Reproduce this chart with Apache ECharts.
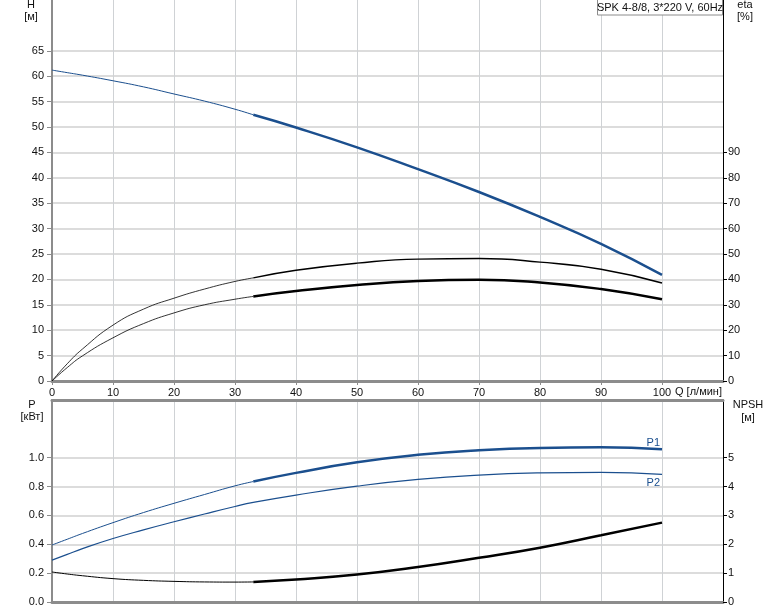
<!DOCTYPE html>
<html>
<head>
<meta charset="utf-8">
<script src="https://cdn.jsdelivr.net/npm/echarts@6/dist/echarts.min.js"></script>
<style>
html,body{margin:0;padding:0;background:#fff;}
#c{width:774px;height:611px;}
</style>
</head>
<body>
<div id="c"></div>
<script>
// ---- data ----
const Q      = [0, 2.5, 5, 10, 15, 20, 25, 30, 33, 40, 50, 60, 70, 80, 90, 100];
const H      = [61.2, 60.7, 60.2, 59.1, 57.9, 56.5, 55.1, 53.5, 52.4, 49.9, 46.0, 41.7, 37.2, 32.3, 27.0, 20.9];
const ETA_A  = [0, 6.8, 12.6, 22.0, 28.3, 32.6, 36.2, 39.2, 40.6, 43.6, 46.4, 48.0, 48.2, 46.8, 44.0, 38.6];
const ETA_B  = [0, 5.3, 9.9, 17.0, 22.6, 26.8, 30.0, 32.2, 33.3, 35.4, 37.8, 39.4, 39.9, 38.8, 36.2, 32.2];
const P1     = [0.395, 0.435, 0.475, 0.55, 0.62, 0.684, 0.745, 0.805, 0.835, 0.895, 0.968, 1.02, 1.052, 1.068, 1.072, 1.058];
const P2     = [0.29, 0.33, 0.37, 0.44, 0.50, 0.556, 0.61, 0.662, 0.69, 0.741, 0.803, 0.85, 0.88, 0.895, 0.899, 0.885];
const NPSH   = [1.04, 0.97, 0.91, 0.81, 0.75, 0.715, 0.695, 0.69, 0.695, 0.78, 0.95, 1.21, 1.53, 1.88, 2.31, 2.75];
const SPLIT  = 8; // index from which the curves are drawn bold (Q = 33)

const Q_TICKS    = [0, 10, 20, 30, 40, 50, 60, 70, 80, 90, 100];
const H_TICKS    = [0, 5, 10, 15, 20, 25, 30, 35, 40, 45, 50, 55, 60, 65];
const ETA_TICKS  = [0, 10, 20, 30, 40, 50, 60, 70, 80, 90];
const P_TICKS    = [0, 0.2, 0.4, 0.6, 0.8, 1.0];
const NPSH_TICKS = [0, 1, 2, 3, 4, 5];

const TITLE = 'SPK 4-8/8, 3*220 V, 60Hz';

// ---- helpers ----
const pairs = (ys) => Q.map((q, i) => [q, ys[i]]);
const thin = (ys) => pairs(ys).slice(0, SPLIT + 1);
const bold = (ys) => pairs(ys).slice(SPLIT);

const BLUE = '#1b4f8e';
const BLACK = '#000000';
const FONT = "'Liberation Sans', Arial, sans-serif";
const AXISGRAY = '#8c8c8c';

function line(name, data, xi, yi, color, width) {
  return {
    name, type: 'line', data, xAxisIndex: xi, yAxisIndex: yi,
    smooth: 0.5, symbol: 'none', silent: true,
    lineStyle: { color, width }, z: 5
  };
}

const chart = echarts.init(document.getElementById('c'), null, { renderer: 'canvas' });

const lblStyle = { color: '#111', fontSize: 11, fontFamily: FONT };

const option = {
  animation: false,
  backgroundColor: '#fff',
  grid: [
    { left: 52, right: 51, top: 0, height: 381 },
    { left: 52, right: 51, top: 400, height: 202 }
  ],
  xAxis: [
    { gridIndex: 0, type: 'value', min: 0, max: 110, interval: 10,
      axisLine: { show: true, onZero: false, lineStyle: { color: AXISGRAY, width: 3 } },
      axisTick: { show: true, length: 4, lineStyle: { color: AXISGRAY }, customValues: Q_TICKS },
      axisLabel: Object.assign({ margin: 6, customValues: Q_TICKS }, lblStyle),
      splitLine: { show: true, lineStyle: { color: '#cfd2d5', width: 1 } } },
    { gridIndex: 1, type: 'value', min: 0, max: 110, interval: 10,
      axisLine: { show: true, onZero: false, lineStyle: { color: AXISGRAY, width: 3 } },
      axisTick: { show: false }, axisLabel: { show: false },
      splitLine: { show: true, lineStyle: { color: '#cfd2d5', width: 1 } } },
    { gridIndex: 1, type: 'value', min: 0, max: 110, position: 'top',
      axisLine: { show: true, onZero: false, lineStyle: { color: AXISGRAY, width: 3 } },
      axisTick: { show: false }, axisLabel: { show: false }, splitLine: { show: false } }
  ],
  yAxis: [
    { gridIndex: 0, type: 'value', min: 0, max: 75, interval: 5, position: 'left',
      axisLine: { show: true, onZero: false, lineStyle: { color: AXISGRAY, width: 2 } },
      axisTick: { show: true, length: 5, lineStyle: { color: AXISGRAY }, customValues: H_TICKS },
      axisLabel: Object.assign({ margin: 8, customValues: H_TICKS }, lblStyle),
      splitLine: { show: true, lineStyle: { color: '#dcdcdc', width: 2 } } },
    { gridIndex: 0, type: 'value', min: 0, max: 150, interval: 10, position: 'right',
      axisLine: { show: true, onZero: false, lineStyle: { color: '#000', width: 1 } },
      axisTick: { show: true, length: 4, inside: false, lineStyle: { color: '#000' }, customValues: ETA_TICKS },
      axisLabel: Object.assign({ margin: 5, customValues: ETA_TICKS }, lblStyle),
      splitLine: { show: false } },
    { gridIndex: 1, type: 'value', min: 0, max: 1.4, interval: 0.2, position: 'left',
      axisLine: { show: true, onZero: false, lineStyle: { color: AXISGRAY, width: 2 } },
      axisTick: { show: true, length: 5, lineStyle: { color: AXISGRAY }, customValues: P_TICKS },
      axisLabel: Object.assign({ margin: 8, customValues: P_TICKS, formatter: v => Number(v).toFixed(1) }, lblStyle),
      splitLine: { show: true, lineStyle: { color: '#dcdcdc', width: 2 } } },
    { gridIndex: 1, type: 'value', min: 0, max: 7, interval: 1, position: 'right',
      axisLine: { show: true, onZero: false, lineStyle: { color: '#000', width: 1 } },
      axisTick: { show: true, length: 4, lineStyle: { color: '#000' }, customValues: NPSH_TICKS },
      axisLabel: Object.assign({ margin: 5, customValues: NPSH_TICKS }, lblStyle),
      splitLine: { show: false } }
  ],
  series: [
    line('H thin', thin(H), 0, 0, BLUE, 1),
    line('H', bold(H), 0, 0, BLUE, 2.5),
    line('eta A thin', thin(ETA_A), 0, 1, BLACK, 0.8),
    line('eta A', bold(ETA_A), 0, 1, BLACK, 1.4),
    line('eta B thin', thin(ETA_B), 0, 1, BLACK, 0.8),
    line('eta B', bold(ETA_B), 0, 1, BLACK, 2.5),
    line('P1 thin', thin(P1), 1, 2, BLUE, 1),
    line('P1', bold(P1), 1, 2, BLUE, 2.5),
    line('P2', pairs(P2), 1, 2, BLUE, 1.2),
    line('NPSH thin', thin(NPSH), 1, 3, BLACK, 1),
    line('NPSH', bold(NPSH), 1, 3, BLACK, 2.5)
  ],
  graphic: [
    { type: 'rect', shape: { x: 597.5, y: -1.5, width: 125, height: 16.5 },
      style: { fill: '#fff', stroke: '#8c8c8c', lineWidth: 1 }, z: 100 },
    { type: 'text', x: 660, y: 7.5, z: 101,
      style: { text: TITLE, fill: '#111', font: '11px ' + FONT, align: 'center', verticalAlign: 'middle' } },
    { type: 'text', x: 31, y: 5, style: { text: 'H', fill: '#111', font: '11px ' + FONT, align: 'center', verticalAlign: 'middle' } },
    { type: 'text', x: 31, y: 17, style: { text: '[м]', fill: '#111', font: '11px ' + FONT, align: 'center', verticalAlign: 'middle' } },
    { type: 'text', x: 745, y: 5, style: { text: 'eta', fill: '#111', font: '11px ' + FONT, align: 'center', verticalAlign: 'middle' } },
    { type: 'text', x: 745, y: 17, style: { text: '[%]', fill: '#111', font: '11px ' + FONT, align: 'center', verticalAlign: 'middle' } },
    { type: 'text', x: 32, y: 405, style: { text: 'P', fill: '#111', font: '11px ' + FONT, align: 'center', verticalAlign: 'middle' } },
    { type: 'text', x: 32, y: 417, style: { text: '[кВт]', fill: '#111', font: '11px ' + FONT, align: 'center', verticalAlign: 'middle' } },
    { type: 'text', x: 748, y: 405, style: { text: 'NPSH', fill: '#111', font: '11px ' + FONT, align: 'center', verticalAlign: 'middle' } },
    { type: 'text', x: 748, y: 418, style: { text: '[м]', fill: '#111', font: '11px ' + FONT, align: 'center', verticalAlign: 'middle' } },
    { type: 'text', x: 675, y: 392, style: { text: 'Q [л/мин]', fill: '#111', font: '11px ' + FONT, align: 'left', verticalAlign: 'middle' } },
    { type: 'text', x: 660, y: 442.5, style: { text: 'P1', fill: BLUE, font: '11px ' + FONT, align: 'right', verticalAlign: 'middle' } },
    { type: 'text', x: 660, y: 482.5, style: { text: 'P2', fill: BLUE, font: '11px ' + FONT, align: 'right', verticalAlign: 'middle' } }
  ]
};

chart.setOption(option);
</script>
</body>
</html>
